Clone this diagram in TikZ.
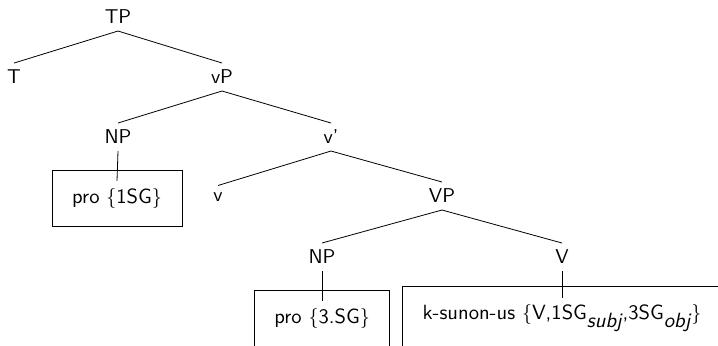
\documentclass[tikz,border=0pt]{standalone}
\usepackage{tikz}
\usetikzlibrary{fit}

\tikzset{
  cat/.style={font=\sffamily},
  leaf/.style={font=\sffamily\fontsize{10.3}{12}\selectfont},
  leafbox/.style={draw, inner xsep=6.5pt, inner ysep=5.5pt},
}

\begin{document}
\begin{tikzpicture}[x=0.5pt, y=-0.5pt]
% Picture frame
\useasboundingbox (0,0) rectangle (718,345);
\clip (0,0) rectangle (718,345);

% Label category nodes
\node[cat] (tp) at (118,17) {TP};
\node[cat] (t) at (14,77) {T};
\node[cat] (vp) at (222,77) {vP};
\node[cat] (np1) at (118,137) {NP};
\node[cat] (vbar) at (331,137) {v'};
\node[cat] (v) at (218,197) {v};
\node[cat] (bigvp) at (442,196) {VP};
\node[cat] (np2) at (322,257) {NP};
\node[cat] (bigv) at (562,257) {V};

% Label leaf nodes
\node[leaf] (pro1) at (117,198) {pro $\{$1SG$\}$};
\node[leaf] (pro2) at (322,318) {pro $\{$3.SG$\}$};
\node[leaf] (verb) at (562,318) {k-sunon-us $\{$V,1SG$_{\textit{subj}}$,3SG$_{\textit{obj}}$$\}$};

% Draw branches
\draw (tp.south) -- (t.north);
\draw (tp.south) -- (vp.north);
\draw (vp.south) -- (np1.north);
\draw (vp.south) -- (vbar.north);
\draw (vbar.south) -- (v.north);
\draw (vbar.south) -- (bigvp.north);
\draw (bigvp.south) -- (np2.north);
\draw (bigvp.south) -- (bigv.north);
\draw (np1.south) -- (pro1.north);
\draw (np2.south) -- (pro2.north);
\draw (bigv.south) -- (verb.north);

% Draw leaf boxes
\node[leafbox, fit=(pro1)] (pro1box) {};
\node[leafbox, fit=(pro2)] (pro2box) {};
\node[leafbox, fit=(verb)] (verbbox) {};
\end{tikzpicture}
\end{document}
